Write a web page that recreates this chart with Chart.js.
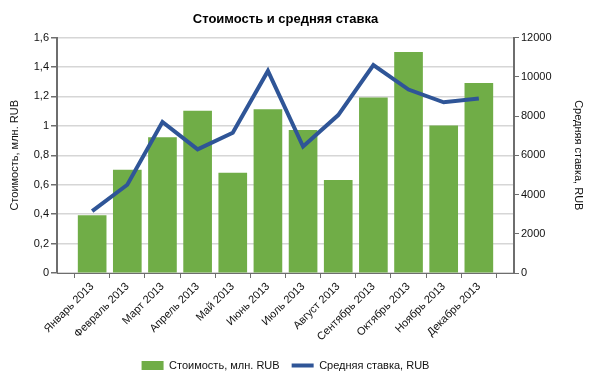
<!DOCTYPE html>
<html>
<head>
<meta charset="utf-8">
<script src="https://cdn.jsdelivr.net/npm/chart.js@4/dist/chart.umd.min.js"></script>
<style>
    html, body { margin: 0; padding: 0; background: #fff; }
    #wrap { width: 590px; height: 381px; position: relative; }
</style>
</head>
<body>
<div id="wrap"><canvas id="canvas-chart"></canvas></div>
<script>
const months = ['Январь 2013', 'Февраль 2013', 'Март 2013', 'Апрель 2013', 'Май 2013', 'Июнь 2013',
    'Июль 2013', 'Август 2013', 'Сентябрь 2013', 'Октябрь 2013', 'Ноябрь 2013', 'Декабрь 2013'];
const costValues = [0.39, 0.70, 0.92, 1.10, 0.68, 1.11, 0.97, 0.63, 1.19, 1.50, 1.00, 1.29];
const rateValues = [3150, 4500, 7700, 6300, 7150, 10300, 6450, 8050, 10600, 9350, 8700, 8900];

const axisColor = '#6e6e6e';
const gridColor = '#d6d6d6';

Chart.defaults.font.family = "'Liberation Sans', Arial, sans-serif";
Chart.defaults.font.size = 11;
Chart.defaults.color = '#111';

// linear x axis: months sit at 1..12, axis runs 0..13
const toPoints = (arr) => arr.map((v, i) => ({ x: i + 1, y: v }));

const chartConfig = {
    type: 'bar',
    data: {
        datasets: [
            {
                label: 'Стоимость, млн. RUB',
                data: toPoints(costValues),
                backgroundColor: '#70ad47',
                borderWidth: 0,
                barThickness: 28,
                yAxisID: 'y',
                order: 2,
                pointStyle: 'rect',
            },
            {
                type: 'line',
                label: 'Средняя ставка, RUB',
                data: toPoints(rateValues),
                borderColor: '#2f5597',
                backgroundColor: '#2f5597',
                borderWidth: 4,
                pointRadius: 0,
                tension: 0,
                yAxisID: 'y1',
                order: 1,
                pointStyle: 'line',
            }
        ]
    },
    options: {
        responsive: true,
        maintainAspectRatio: false,
        animation: false,
        layout: { padding: { left: 0, right: 0, top: 0, bottom: 0 } },
        scales: {
            x: {
                type: 'linear',
                min: 0,
                max: 13,
                offset: false,
                afterFit: (s) => { s.height = 75; },
                grid: {
                    drawOnChartArea: false,
                    tickColor: axisColor,
                    tickLength: 5,
                },
                border: { color: axisColor, width: 1 },
                ticks: {
                    stepSize: 1,
                    autoSkip: false,
                    minRotation: 45,
                    maxRotation: 45,
                    padding: 2,
                    callback: (v) => months[v - 1] || '',
                },
            },
            y: {
                position: 'left',
                min: 0,
                max: 1.6,
                afterFit: (s) => { s.width = 57; },
                grid: {
                    color: gridColor,
                    lineWidth: 1.5,
                    tickColor: axisColor,
                    tickLength: 6,
                },
                border: { color: axisColor, width: 2 },
                ticks: {
                    stepSize: 0.2,
                    padding: 2,
                    callback: (v) => String(Math.round(v * 10) / 10).replace('.', ','),
                },
                title: {
                    display: true,
                    text: 'Стоимость, млн. RUB',
                    padding: { top: 8, bottom: 0 },
                },
            },
            y1: {
                position: 'right',
                min: 0,
                max: 12000,
                afterFit: (s) => { s.width = 76; },
                grid: {
                    drawOnChartArea: false,
                    tickColor: axisColor,
                    tickLength: 5,
                },
                border: { color: axisColor, width: 2 },
                ticks: {
                    stepSize: 2000,
                    padding: 2,
                    callback: (v) => String(v),
                },
                title: {
                    display: true,
                    text: 'Средняя ставка, RUB',
                    padding: { top: 5, bottom: 0 },
                },
            },
        },
        plugins: {
            title: {
                display: true,
                fullSize: false,
                text: 'Стоимость и средняя ставка',
                font: { size: 13, weight: 'bold' },
                color: '#000',
                padding: { top: 12, bottom: 10 },
            },
            legend: {
                position: 'bottom',
                fullSize: false,
                labels: {
                    usePointStyle: true,
                    pointStyleWidth: 22,
                    boxHeight: 9,
                    padding: 12,
                    color: '#111',
                    sort: (a, b) => a.datasetIndex - b.datasetIndex,
                },
            },
            tooltip: { enabled: false },
        },
    },
};

new Chart(document.getElementById('canvas-chart').getContext('2d'), chartConfig);
</script>
</body>
</html>
